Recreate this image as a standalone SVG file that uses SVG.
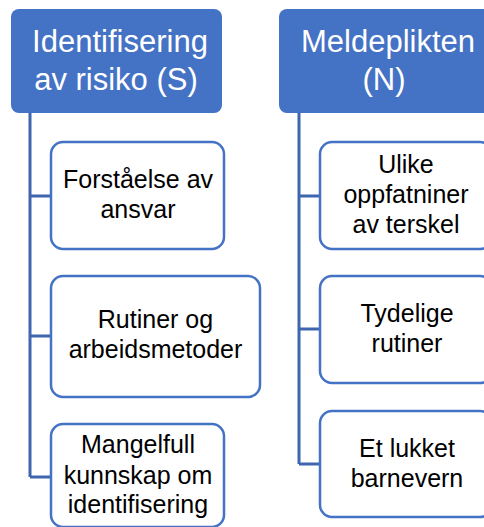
<svg xmlns="http://www.w3.org/2000/svg" width="484" height="527" viewBox="0 0 484 527">
<style>
.hdr{fill:#4472C4;}
.hdrt{fill:#ffffff;font-family:"Liberation Sans",Arial,sans-serif;font-size:31px;text-anchor:middle;}
.box{fill:#ffffff;stroke:#4472C4;stroke-width:2.5;}
.bt{fill:#000000;font-family:"Liberation Sans",Arial,sans-serif;font-size:25px;text-anchor:middle;}
.con{fill:none;stroke:#3F65AE;stroke-width:3;}
</style>
<rect width="484" height="527" fill="#ffffff"/>
<g id="connectors">
<path class="con" d="M30,113 V477 M30,196 H51 M30,336 H51 M30,477 H51"/>
<path class="con" d="M299,113 V464 M299,196 H320 M299,329 H320 M299,464 H320"/>
</g>
<g id="hdr-s">
<rect class="hdr" x="11" y="9" width="211" height="104" rx="8"/>
<text class="hdrt" x="120" y="52">Identifisering</text>
<text class="hdrt" x="116" y="90">av risiko (S)</text>
</g>
<g id="hdr-n">
<rect class="hdr" x="279" y="9" width="215" height="104" rx="8"/>
<text class="hdrt" x="388" y="52">Meldeplikten</text>
<text class="hdrt" x="384" y="90">(N)</text>
</g>
<g id="s1">
<rect class="box" x="51" y="142" width="173" height="107" rx="12"/>
<text class="bt" x="138" y="188">Forståelse av</text>
<text class="bt" x="138" y="218">ansvar</text>
</g>
<g id="s2">
<rect class="box" x="51" y="276" width="209" height="121" rx="12"/>
<text class="bt" x="155.5" y="328">Rutiner og</text>
<text class="bt" x="155.5" y="358">arbeidsmetoder</text>
</g>
<g id="s3">
<rect class="box" x="51" y="424" width="173" height="103" rx="12"/>
<text class="bt" x="138" y="453">Mangelfull</text>
<text class="bt" x="138" y="484">kunnskap om</text>
<text class="bt" x="138" y="513">identifisering</text>
</g>
<g id="n1">
<rect class="box" x="320" y="142" width="172" height="107" rx="12"/>
<text class="bt" x="406" y="173">Ulike</text>
<text class="bt" x="406" y="203">oppfatniner</text>
<text class="bt" x="406" y="233">av terskel</text>
</g>
<g id="n2">
<rect class="box" x="320" y="276" width="172" height="107" rx="12"/>
<text class="bt" x="407" y="322">Tydelige</text>
<text class="bt" x="407" y="352">rutiner</text>
</g>
<g id="n3">
<rect class="box" x="320" y="411" width="172" height="106" rx="12"/>
<text class="bt" x="407" y="457">Et lukket</text>
<text class="bt" x="407" y="487">barnevern</text>
</g>
</svg>
